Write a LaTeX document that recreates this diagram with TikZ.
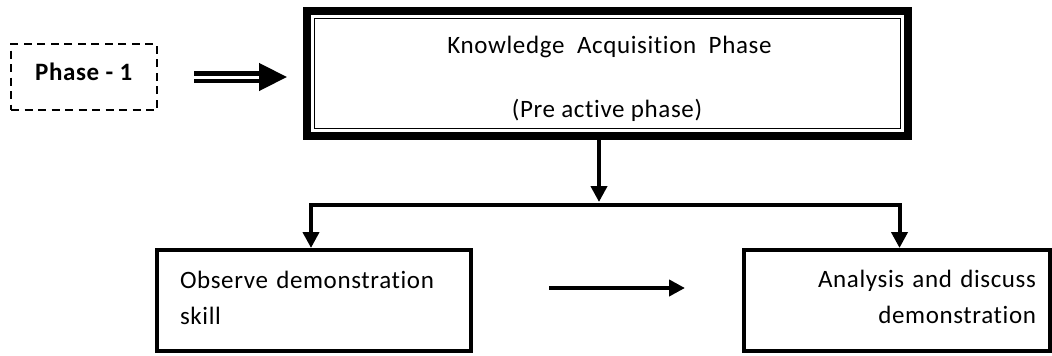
\documentclass[tikz,border=0pt]{standalone}
\usepackage{fontspec}
\setmainfont{Carlito}[LetterSpace=2.5,Ligatures=CommonOff]
\usetikzlibrary{arrows.meta}

\begin{document}
\begin{tikzpicture}[x=1pt,y=-1pt,>={Triangle[length=16pt,width=16pt]},
                line width=4pt,
                every node/.style={font=\fontsize{25}{36}\selectfont,inner sep=0pt},
                box node/.style={draw,line width=4pt,minimum width=314pt,minimum height=101pt},
                label node/.style={text width=290pt}]
  \useasboundingbox (0,0) rectangle (1052,356);
  \node[draw,dash pattern=on 8pt off 5.5pt,line width=2pt,minimum width=146pt,
        minimum height=66pt,text height=17pt,text depth=10pt] (phase) at (84,77) {\textbf{Phase - 1}};
  \node[draw,line width=8pt,minimum width=601pt,minimum height=125pt] (kap) at (607.5,73.5) {};
  \draw[line width=1pt] ([shift={(11.5pt,11.5pt)}]kap.south west) rectangle ([shift={(-11.5pt,-11.5pt)}]kap.north east);
  \node[anchor=base] (kaptitle) at (609.5,53) {Knowledge\ \ Acquisition\ \ Phase};
  \node[anchor=base] (kapsub) at (607,117) {(Pre active phase)};
  \node[box node] (obs) at (314,300.5) {};
  \node[box node,minimum width=306pt] (ana) at (897,300.5) {};
  \node[label node,anchor=base west,align=left] (obstext) at (178,288) {Observe demonstration\\skill};
  \node[label node,anchor=base east,align=right] (anatext) at (1038,287) {Analysis and discuss\\demonstration};
  \coordinate (split) at (599,204.5);

  \draw[double,double distance=3pt,line width=4.5pt,-{Triangle[length=28pt,width=27pt]},
        shorten <=36pt,shorten >=16pt] (phase.east) -- (phase.east -| kap.west);
  \draw[->] ([xshift=-8.5pt]kap.south) -- ([yshift=2.5pt]split);
  \draw[<->] ([xshift=-3pt]obs.north) |- (split) -| ([xshift=2.5pt]ana.north);
  \draw[->,shorten <=76pt,shorten >=57pt] ([yshift=12.5pt]obs.east) -- ([yshift=12.5pt]ana.west);
\end{tikzpicture}
\end{document}
